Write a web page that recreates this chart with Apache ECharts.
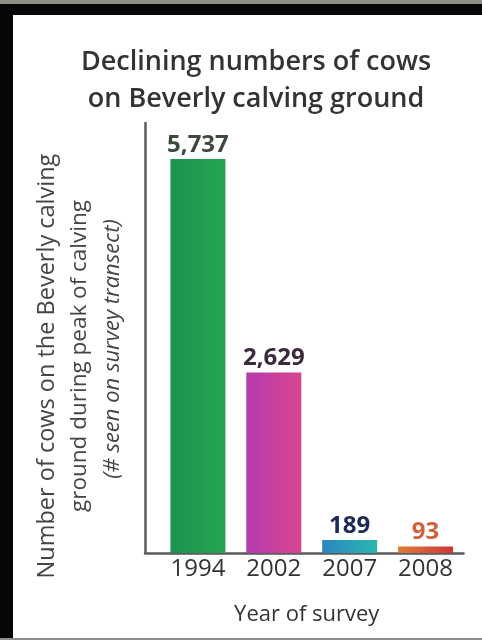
<!DOCTYPE html>
<html>
<head>
<meta charset="utf-8">
<script src="https://cdn.jsdelivr.net/npm/echarts@6/dist/echarts.min.js"></script>
<style>
html,body{margin:0;padding:0;width:482px;height:640px;overflow:hidden;background:#8b9088;}
#frame{position:absolute;left:0;top:4px;width:482px;height:634px;background:#fff;border-top:11px solid #060606;border-left:13px solid #060606;box-sizing:border-box;}
#chart{position:absolute;left:0;top:0;width:482px;height:640px;}
</style>
</head>
<body>
<div id="frame"></div>
<div id="chart"></div>
<script>
const titleLines = ['Declining numbers of cows', 'on Beverly calving ground'];
const years = ['1994', '2002', '2007', '2008'];
const cows = [5737, 2629, 189, 93];
const yTitleLines = ['Number of cows on the Beverly calving', 'ground during peak of calving', '(# seen on survey transect)'];
const xTitle = 'Year of survey';
const barGradients = [['#1c944f', '#24a453'], ['#b53aae', '#d8468f'], ['#2a84c2', '#2bb8ae'], ['#dc7c3a', '#cf3838']];
const labelColors = ['#3c4a3c', '#3b2a3b', '#1c2a57', '#d2603a'];

const FONT = '"Open Sans", "Noto Sans", sans-serif';
const chart = echarts.init(document.getElementById('chart'), null, {renderer: 'canvas'});

const data = cows.map((v, i) => ({
  value: v,
  itemStyle: {color: new echarts.graphic.LinearGradient(0, 0, 1, 0, [
    {offset: 0, color: barGradients[i][0]}, {offset: 1, color: barGradients[i][1]}])},
  label: {color: labelColors[i]}
}));

const yTitlePos = [[47, 366, 'normal', 23.5], [80, 356, 'normal', 22.5], [113, 349, 'italic', 22]];

chart.setOption({
  animation: false,
  title: {
    text: titleLines.join('\n'),
    left: 251, top: 39, textAlign: 'center',
    textStyle: {fontFamily: FONT, fontSize: 27, fontWeight: 600, color: '#333', lineHeight: 37}
  },
  grid: [
    {left: 160, right: 18.5, top: 123, bottom: 87},
    {left: 145, right: 18.5, top: 123, bottom: 87}
  ],
  xAxis: [
    {type: 'category', gridIndex: 0, data: years,
     axisLine: {show: false}, axisTick: {show: false},
     axisLabel: {fontFamily: FONT, fontSize: 24, color: '#333', margin: 4},
     name: xTitle, nameLocation: 'middle', nameGap: 51,
     nameTextStyle: {fontFamily: FONT, fontSize: 22, color: '#333', padding: [0, 10, 0, 0]}},
    {type: 'value', gridIndex: 1, min: 0, max: 1,
     axisLine: {show: true, lineStyle: {color: '#5a5a5a', width: 2.5}},
     axisTick: {show: false}, axisLabel: {show: false}, splitLine: {show: false}}
  ],
  yAxis: [
    {type: 'value', gridIndex: 0, min: 0, max: 6260,
     axisLine: {show: false}, axisTick: {show: false}, axisLabel: {show: false}, splitLine: {show: false}},
    {type: 'value', gridIndex: 1, min: 0, max: 1,
     axisLine: {show: true, lineStyle: {color: '#5a5a5a', width: 2.5}},
     axisTick: {show: false}, axisLabel: {show: false}, splitLine: {show: false}}
  ],
  graphic: yTitleLines.map((t, i) => ({
    type: 'text', x: yTitlePos[i][0], y: yTitlePos[i][1], rotation: Math.PI / 2,
    style: {
      text: t, align: 'center', verticalAlign: 'middle',
      fontFamily: FONT, fontSize: yTitlePos[i][3], fontStyle: yTitlePos[i][2], fill: '#444'
    }
  })),
  series: [{
    type: 'bar', xAxisIndex: 0, yAxisIndex: 0,
    data: data, barWidth: 55,
    label: {show: true, position: 'top', distance: 2,
      fontFamily: FONT, fontSize: 24, fontWeight: 'bold',
      formatter: p => p.value.toLocaleString('en-US')}
  }]
});
</script>
</body>
</html>
